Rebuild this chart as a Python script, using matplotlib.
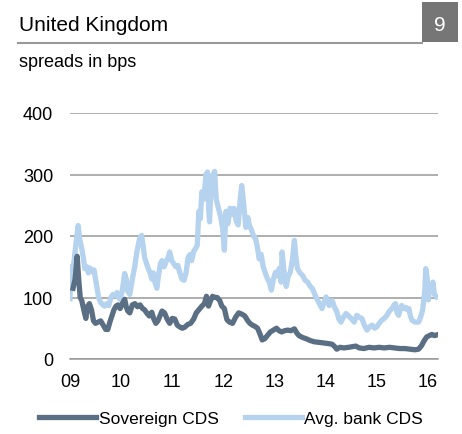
import matplotlib
matplotlib.use("Agg")
import matplotlib.pyplot as plt
from matplotlib.patches import Rectangle
from matplotlib.lines import Line2D

plt.rcParams['font.family'] = ['Liberation Sans', 'DejaVu Sans']

# decimal years and spreads (bps)
bank_t = [2009.00, 2009.02, 2009.05, 2009.08, 2009.12, 2009.16, 2009.19, 2009.23, 2009.26, 2009.29,
          2009.33, 2009.36, 2009.39, 2009.43, 2009.47, 2009.50, 2009.53, 2009.56, 2009.60, 2009.64,
          2009.68, 2009.72, 2009.76, 2009.80, 2009.84, 2009.88, 2009.92, 2009.95, 2009.98, 2010.02,
          2010.07, 2010.10, 2010.13, 2010.17, 2010.22, 2010.27, 2010.31, 2010.36, 2010.40, 2010.43,
          2010.46, 2010.50, 2010.53, 2010.57, 2010.60, 2010.63, 2010.66, 2010.70, 2010.73, 2010.77,
          2010.80, 2010.84, 2010.88, 2010.92, 2010.95, 2010.99, 2011.03, 2011.07, 2011.11, 2011.15,
          2011.19, 2011.23, 2011.27, 2011.31, 2011.35, 2011.38, 2011.42, 2011.46, 2011.49, 2011.52,
          2011.55, 2011.58, 2011.62, 2011.66, 2011.69, 2011.71, 2011.73, 2011.76, 2011.80, 2011.83,
          2011.86, 2011.89, 2011.92, 2011.95, 2011.99, 2012.02, 2012.05, 2012.09, 2012.13, 2012.17,
          2012.21, 2012.25, 2012.29, 2012.33, 2012.36, 2012.40, 2012.44, 2012.48, 2012.51, 2012.55,
          2012.59, 2012.63, 2012.67, 2012.70, 2012.74, 2012.78, 2012.82, 2012.86, 2012.90, 2012.94,
          2012.98, 2013.02, 2013.06, 2013.09, 2013.13, 2013.15, 2013.19, 2013.23, 2013.27, 2013.31,
          2013.35, 2013.39, 2013.42, 2013.45, 2013.50, 2013.55, 2013.60, 2013.65, 2013.70, 2013.74,
          2013.79, 2013.83, 2013.88, 2013.93, 2013.97, 2014.01, 2014.04, 2014.07, 2014.10, 2014.13,
          2014.17, 2014.22, 2014.26, 2014.30, 2014.35, 2014.40, 2014.45, 2014.50, 2014.56, 2014.61,
          2014.66, 2014.71, 2014.76, 2014.81, 2014.86, 2014.91, 2014.96, 2015.00, 2015.05, 2015.10,
          2015.15, 2015.20, 2015.25, 2015.30, 2015.34, 2015.37, 2015.40, 2015.43, 2015.46, 2015.49,
          2015.53, 2015.57, 2015.60, 2015.63, 2015.66, 2015.69, 2015.75, 2015.82, 2015.86, 2015.90,
          2015.94, 2015.96, 2015.99, 2016.01, 2016.04, 2016.07, 2016.10, 2016.13, 2016.17]
bank_cds = [98, 150, 140, 160, 190, 217, 195, 180, 165, 147,
            150, 140, 148, 142, 145, 130, 115, 100, 92, 88,
            86, 90, 87, 100, 105, 103, 108, 100, 97, 110,
            139, 130, 110, 105, 130, 152, 175, 195, 201, 185,
            165, 155, 147, 140, 130, 140, 125, 115, 135, 155,
            160, 150, 158, 165, 174, 160, 155, 150, 152, 140,
            130, 128, 140, 165, 170, 160, 175, 180, 185, 240,
            228, 272, 260, 300, 304, 250, 223, 280, 300, 305,
            260, 250, 240, 230, 210, 177, 240, 220, 245, 235,
            245, 225, 218, 260, 282, 250, 214, 230, 217, 210,
            200, 196, 180, 163, 170, 150, 140, 131, 125, 112,
            130, 141, 135, 147, 125, 174, 140, 118, 135, 141,
            160, 193, 165, 147, 140, 136, 128, 125, 118, 115,
            105, 98, 90, 82, 92, 101, 95, 87, 92, 95,
            85, 77, 65, 60, 68, 74, 70, 66, 60, 71,
            68, 66, 55, 47, 52, 55, 50, 52, 58, 63,
            66, 71, 78, 82, 88, 90, 75, 71, 80, 87,
            82, 84, 80, 82, 70, 63, 60, 60, 68, 80,
            110, 147, 130, 96, 120, 110, 125, 105, 101]

sov_t = [2009.06, 2009.10, 2009.14, 2009.17, 2009.20, 2009.23, 2009.27, 2009.31, 2009.34, 2009.38,
         2009.42, 2009.46, 2009.50, 2009.55, 2009.60, 2009.65, 2009.70, 2009.74, 2009.78, 2009.82,
         2009.86, 2009.90, 2009.94, 2009.98, 2010.03, 2010.07, 2010.10, 2010.13, 2010.17, 2010.22,
         2010.27, 2010.32, 2010.37, 2010.42, 2010.46, 2010.50, 2010.55, 2010.60, 2010.64, 2010.68,
         2010.72, 2010.76, 2010.80, 2010.85, 2010.90, 2010.95, 2011.00, 2011.05, 2011.10, 2011.15,
         2011.20, 2011.25, 2011.30, 2011.36, 2011.42, 2011.47, 2011.52, 2011.58, 2011.63, 2011.67,
         2011.71, 2011.75, 2011.79, 2011.83, 2011.88, 2011.93, 2011.97, 2012.02, 2012.07, 2012.12,
         2012.18, 2012.24, 2012.30, 2012.36, 2012.42, 2012.48, 2012.52, 2012.57, 2012.62, 2012.67,
         2012.72, 2012.76, 2012.81, 2012.86, 2012.92, 2012.98, 2013.04, 2013.09, 2013.14, 2013.20,
         2013.26, 2013.32, 2013.39, 2013.44, 2013.48, 2013.55, 2013.62, 2013.70, 2013.78, 2013.88,
         2013.97, 2014.06, 2014.13, 2014.18, 2014.22, 2014.28, 2014.36, 2014.45, 2014.52, 2014.59,
         2014.66, 2014.75, 2014.85, 2014.95, 2015.05, 2015.15, 2015.25, 2015.35, 2015.45, 2015.55,
         2015.65, 2015.75, 2015.82, 2015.88, 2015.93, 2015.98, 2016.03, 2016.08, 2016.13, 2016.17]
sovereign_cds = [115, 130, 167, 130, 100, 95, 80, 66, 85, 90,
                 80, 62, 58, 60, 62, 55, 48, 48, 60, 70,
                 80, 86, 88, 82, 91, 97, 85, 78, 75, 88,
                 90, 85, 88, 82, 80, 75, 70, 76, 65, 58,
                 62, 70, 78, 75, 65, 58, 66, 65, 55, 52,
                 50, 52, 56, 58, 65, 75, 80, 86, 90, 102,
                 86, 95, 102, 100, 100, 95, 86, 82, 64, 60,
                 58, 68, 75, 73, 70, 62, 58, 55, 53, 50,
                 40, 31, 33, 38, 44, 47, 50, 46, 44, 46,
                 47, 46, 49, 42, 38, 35, 33, 30, 28, 27,
                 26, 25, 24, 20, 16, 19, 18, 19, 20, 21,
                 18, 17, 19, 18, 19, 18, 19, 18, 17, 17,
                 16, 15, 16, 22, 30, 36, 38, 40, 38, 39]

year_ticks = [2009, 2010, 2011, 2012, 2013, 2014, 2015, 2016]
year_labels = ['09', '10', '11', '12', '13', '14', '15', '16']

sov_color = '#5a6f84'
bank_color = '#b5d2ef'

fig = plt.figure(figsize=(4.62, 4.35), dpi=100)
ax = fig.add_axes([70/462, 1-360/435, 368/462, 246/435])

ax.plot(bank_t, bank_cds, color=bank_color, lw=3.8, label='Avg. bank CDS', zorder=3)
ax.plot(sov_t, sovereign_cds, color=sov_color, lw=3.8, label='Sovereign CDS', zorder=4)

ax.set_xlim(2009, 2016.2)
ax.set_ylim(0, 400)
ax.set_yticks([0, 100, 200, 300, 400])
ax.set_xticks(year_ticks)
ax.set_xticklabels(year_labels)
ax.yaxis.grid(True, color='#999999', lw=1.1)
ax.set_axisbelow(True)
for s in ['top', 'right', 'left']:
    ax.spines[s].set_visible(False)
ax.spines['bottom'].set_color('#999999')
ax.spines['bottom'].set_linewidth(1.1)
ax.tick_params(axis='both', length=0, labelsize=13, colors='black')
ax.tick_params(axis='y', pad=12)
ax.tick_params(axis='x', pad=10)

handles, labels = ax.get_legend_handles_labels()
fig.legend(handles[::-1], labels[::-1], loc='center', bbox_to_anchor=(0.5, 1-419/435),
           ncol=2, frameon=False, fontsize=12.5, handlelength=3.3, handletextpad=0.15,
           columnspacing=1.5)

# header
fig.text(19/462, 1-31/435, 'United Kingdom', fontsize=15, va='baseline', ha='left')
fig.text(19/462, 1-67/435, 'spreads in bps', fontsize=13, va='baseline', ha='left')
fig.add_artist(Line2D([18/462, 422/462], [1-44/435, 1-44/435], color='#999999', lw=1.5))
fig.add_artist(Rectangle((422/462, 1-43/435), 36/462, 40/435, color='#767676', lw=0))
fig.text(440/462, 1-31/435, '9', fontsize=15, color='white', va='baseline', ha='center')

fig.savefig('out.png', dpi=100)
